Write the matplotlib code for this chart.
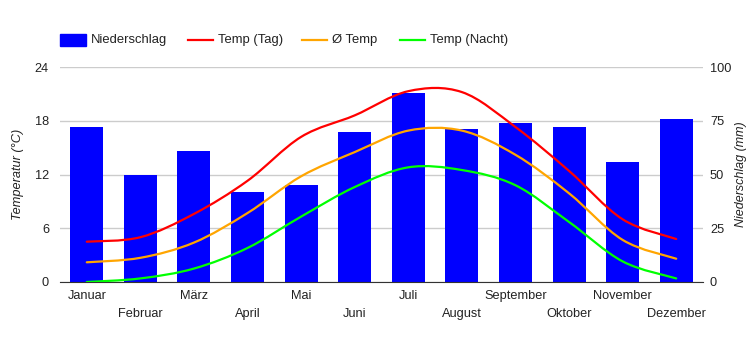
import numpy as np
import matplotlib
matplotlib.use("Agg")
import matplotlib.pyplot as plt
from matplotlib.path import Path
from matplotlib.patches import PathPatch, Rectangle
from matplotlib.lines import Line2D

plt.rcParams['font.family'] = ['Liberation Sans', 'DejaVu Sans']

months = ['Januar', 'Februar', 'März', 'April', 'Mai', 'Juni',
          'Juli', 'August', 'September', 'Oktober', 'November', 'Dezember']
niederschlag = [72, 50, 61, 42, 45, 70, 88, 71, 74, 72, 56, 76]
temp_tag = [4.5, 5.0, 7.6, 11.3, 16.2, 18.6, 21.3, 21.2, 17.3, 12.4, 7.0, 4.8]
temp_mittel = [2.2, 2.7, 4.4, 7.7, 11.8, 14.5, 16.9, 16.9, 14.2, 9.9, 4.7, 2.6]
temp_nacht = [0.0, 0.4, 1.5, 3.8, 7.3, 10.6, 12.8, 12.5, 10.8, 6.7, 2.3, 0.4]

TXT = '#222222'


def smooth_path(xs, ys, k=1.0):
    """Catmull-Rom style bezier path through the points (like curveType 'function')."""
    pts = np.column_stack([xs, ys]).astype(float)
    n = len(pts)
    verts = [pts[0]]
    codes = [Path.MOVETO]
    for i in range(n - 1):
        p0 = pts[max(i - 1, 0)]
        p1 = pts[i]
        p2 = pts[i + 1]
        p3 = pts[min(i + 2, n - 1)]
        c1 = p1 + (p2 - p0) / 6 * k
        c2 = p2 - (p3 - p1) / 6 * k
        verts += [c1, c2, p2]
        codes += [Path.CURVE4] * 3
    return Path(verts, codes)


fig = plt.figure(figsize=(7.5, 3.5), dpi=100)
ax = fig.add_axes([60 / 750, 1 - 282 / 350, 643 / 750, 215 / 350])
ax2 = ax.twinx()

x = np.arange(len(months))

# precipitation bars on the right axis, drawn below the temperature lines
ax2.bar(x, niederschlag, width=0.615, color='#0000ff', zorder=2)
ax2.set_ylim(0, 100)
ax2.set_yticks([0, 25, 50, 75, 100])
ax2.yaxis.grid(True, color='#cccccc', lw=1, zorder=0)
ax2.set_axisbelow(True)

ax.set_zorder(ax2.get_zorder() + 1)
ax.patch.set_visible(False)

for vals, col in [(temp_tag, '#ff0000'), (temp_mittel, '#ffa500'), (temp_nacht, '#00ff00')]:
    ax.add_patch(PathPatch(smooth_path(x, vals), fill=False, edgecolor=col, lw=1.6,
                           capstyle='round', zorder=3))

ax.set_xlim(-0.5, len(months) - 0.5)
ax.set_ylim(0, 24)
ax.set_yticks([0, 6, 12, 18, 24])
ax.set_xticks(x)
ax.set_xticklabels(months)
for i, t in enumerate(ax.xaxis.get_major_ticks()):
    t.set_pad(6 if i % 2 == 0 else 19)

for a in (ax, ax2):
    for s in a.spines.values():
        s.set_visible(False)
    a.tick_params(length=0, labelsize=9.2, labelcolor=TXT)
ax.spines['bottom'].set_visible(True)
ax.spines['bottom'].set_color('#333333')
ax.tick_params(axis='y', pad=8)
ax2.tick_params(axis='y', pad=5)

ax.set_ylabel('Temperatur (°C)', fontstyle='italic', fontsize=9.2, color=TXT, labelpad=8)
ax2.set_ylabel('Niederschlag (mm)', fontstyle='italic', fontsize=9, color=TXT, labelpad=3)

# legend row at the top
ly = 1 - 40 / 350
fig.add_artist(Rectangle((60 / 750, 1 - 46 / 350), 26 / 750, 12 / 350,
                         transform=fig.transFigure, color='#0000ff'))
fig.text(91 / 750, ly, 'Niederschlag', fontsize=9.4, color=TXT, va='center')
for x0, col, label in [(188, '#ff0000', 'Temp (Tag)'), (302, '#ffa500', 'Ø Temp'),
                       (400, '#00ff00', 'Temp (Nacht)')]:
    fig.add_artist(Line2D([x0 / 750, (x0 + 25) / 750], [ly, ly], transform=fig.transFigure,
                          color=col, lw=1.6))
    fig.text((x0 + 30) / 750, ly, label, fontsize=9.4, color=TXT, va='center')

fig.savefig('out.png', dpi=100)
